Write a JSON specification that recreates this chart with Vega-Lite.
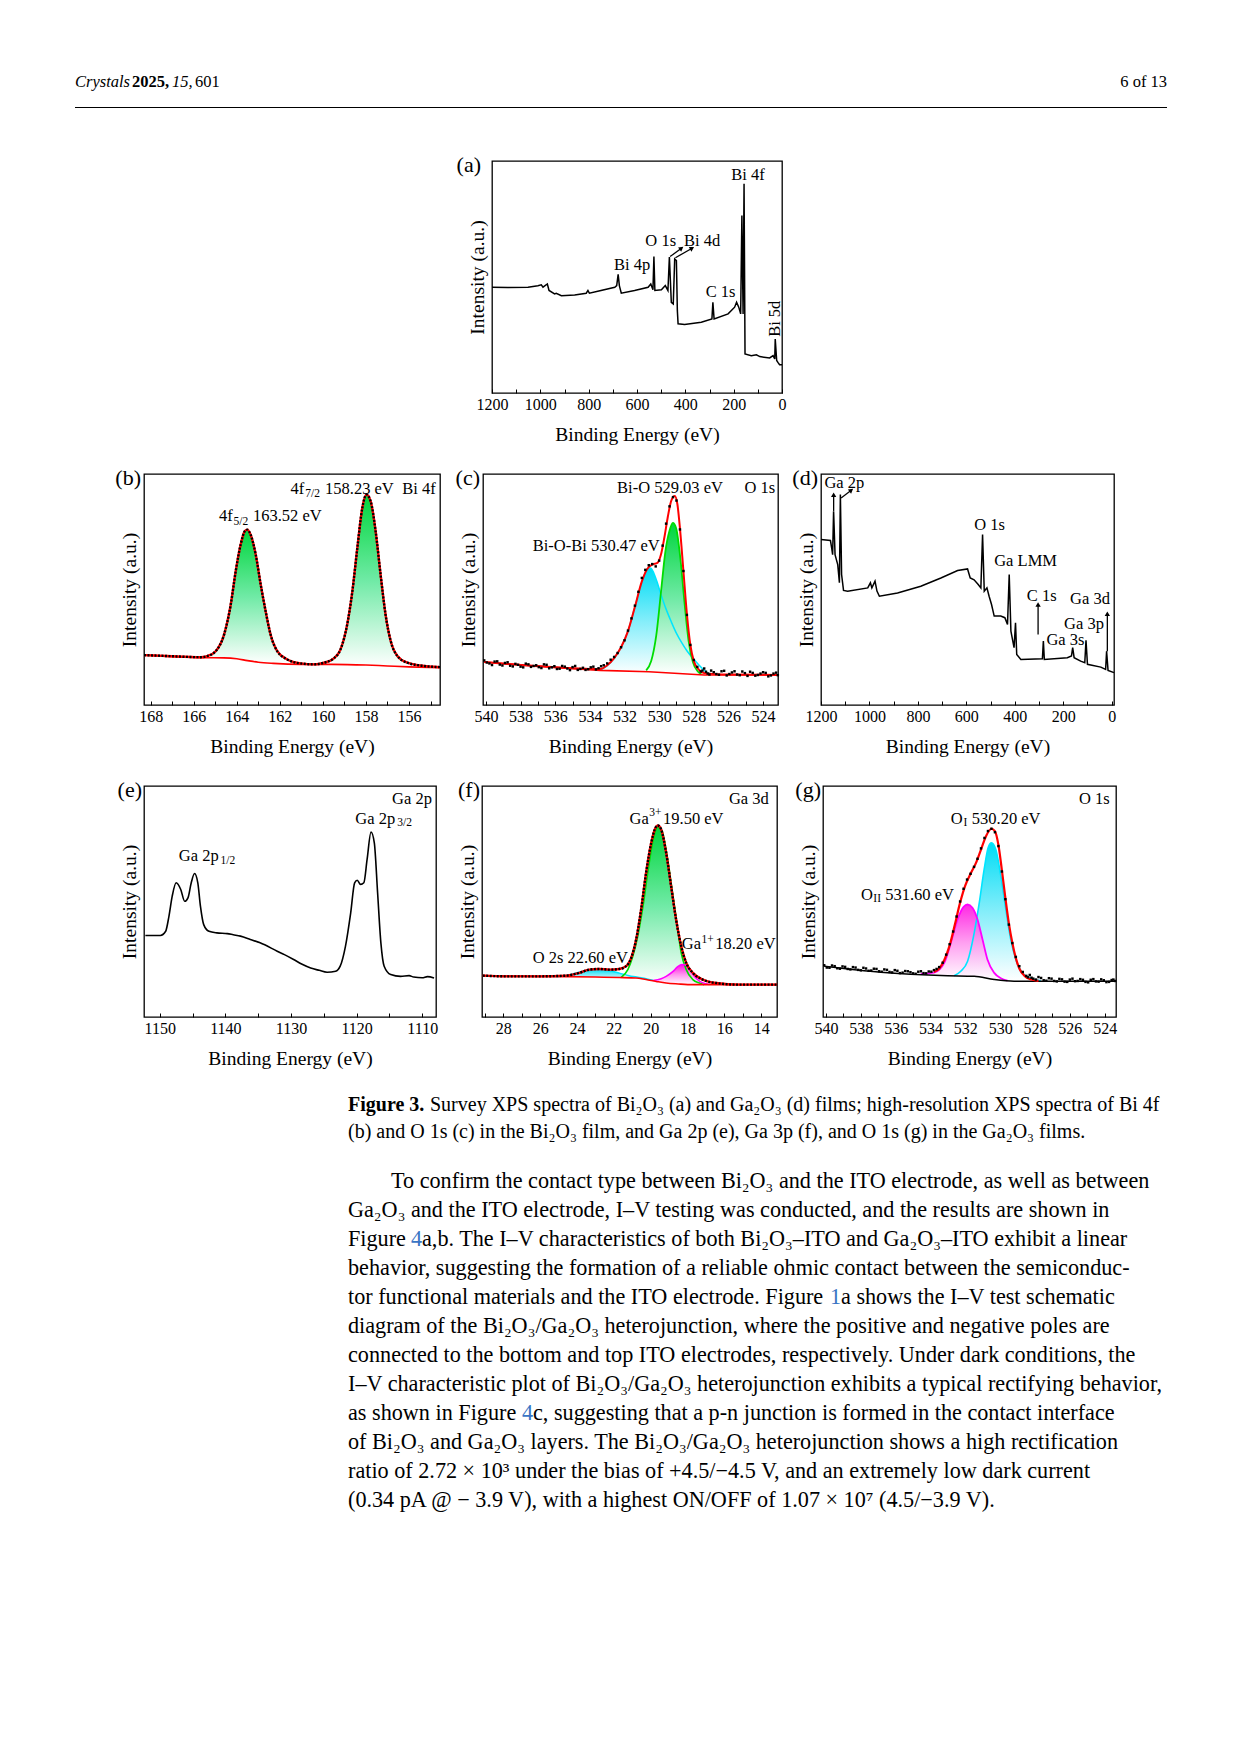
{
"$schema":"https://vega.github.io/schema/vega-lite/v6.json",
"background":"white",
"padding":{"left":74,"top":74,"right":5,"bottom":5},
"config":{
 "font":"Liberation Serif",
 "view":{"stroke":"black","strokeWidth":1.3},
 "axis":{"labelFont":"Liberation Serif","labelFontSize":16,"labelColor":"black","titleFont":"Liberation Serif","titleFontSize":19.5,"titleFontWeight":"normal","titleColor":"black","tickColor":"black","grid":false,"domain":false},
 "axisX":{"tickSize":-4,"labelPadding":7,"titlePadding":13,"minExtent":0,"labelFlush":false,"labelOverlap":false},
 "axisY":{"labels":false,"ticks":false,"minExtent":0,"titlePadding":5},
 "text":{"font":"Liberation Serif","color":"black"}
},
"datasets":{
 "hdr":[{"k":"i","t":"Crystals","x":0,"y":8},{"k":"b","t":"2025,","x":57,"y":8},{"k":"i","t":"15,","x":97,"y":8},{"k":"n","t":"601","x":120,"y":8},{"k":"r","t":"6 of 13","x":1092,"y":8},{"k":"rule","x":0,"x2":1092,"y":33.5}],
 "cap":[{"ln":1,"x":0,"k":"b","t":"Figure 3."},{"ln":1,"x":82,"k":"n","t":"Survey XPS spectra of Bi₂O₃ (a) and Ga₂O₃ (d) films; high-resolution XPS spectra of Bi 4f"},{"ln":2,"x":0,"k":"n","t":"(b) and O 1s (c) in the Bi₂O₃ film, and Ga 2p (e), Ga 3p (f), and O 1s (g) in the Ga₂O₃ films."}],
 "body":[
  {"ln":1,"x":43,"k":"n","t":"To confirm the contact type between Bi₂O₃ and the ITO electrode, as well as between"},
  {"ln":2,"x":0,"k":"n","t":"Ga₂O₃ and the ITO electrode, I–V testing was conducted, and the results are shown in"},
  {"ln":3,"x":0,"k":"n","t":"Figure"},
  {"ln":3,"x":63,"k":"l","t":"4"},
  {"ln":3,"x":74,"k":"n","t":"a,b. The I–V characteristics of both Bi₂O₃–ITO and Ga₂O₃–ITO exhibit a linear"},
  {"ln":4,"x":0,"k":"n","t":"behavior, suggesting the formation of a reliable ohmic contact between the semiconduc-"},
  {"ln":5,"x":0,"k":"n","t":"tor functional materials and the ITO electrode.  Figure"},
  {"ln":5,"x":482,"k":"l","t":"1"},
  {"ln":5,"x":493,"k":"n","t":"a shows the I–V test schematic"},
  {"ln":6,"x":0,"k":"n","t":"diagram of the Bi₂O₃/Ga₂O₃ heterojunction, where the positive and negative poles are"},
  {"ln":7,"x":0,"k":"n","t":"connected to the bottom and top ITO electrodes, respectively. Under dark conditions, the"},
  {"ln":8,"x":0,"k":"n","t":"I–V characteristic plot of Bi₂O₃/Ga₂O₃ heterojunction exhibits a typical rectifying behavior,"},
  {"ln":9,"x":0,"k":"n","t":"as shown in Figure"},
  {"ln":9,"x":174,"k":"l","t":"4"},
  {"ln":9,"x":185,"k":"n","t":"c, suggesting that a p-n junction is formed in the contact interface"},
  {"ln":10,"x":0,"k":"n","t":"of Bi₂O₃ and Ga₂O₃ layers. The Bi₂O₃/Ga₂O₃ heterojunction shows a high rectification"},
  {"ln":11,"x":0,"k":"n","t":"ratio of 2.72 × 10³ under the bias of +4.5/−4.5 V, and an extremely low dark current"},
  {"ln":12,"x":0,"k":"n","t":"(0.34 pA @ − 3.9 V), with a highest ON/OFF of 1.07 × 10⁷ (4.5/−3.9 V)."}
 ],
 "a":[{"x":1200,"y":45.6},{"x":1134,"y":45.5},{"x":1051,"y":45.6},{"x":1010,"y":46.2},{"x":996,"y":46.6},{"x":989,"y":45.6},{"x":971,"y":47.0},{"x":964,"y":44.2},{"x":941,"y":42.7},{"x":934,"y":43.0},{"x":913,"y":41.9},{"x":858,"y":42.2},{"x":810,"y":43.0},{"x":803,"y":44.2},{"x":797,"y":43.0},{"x":749,"y":44.2},{"x":692,"y":45.6},{"x":684,"y":46.3},{"x":678,"y":51.1},{"x":673,"y":46.3},{"x":665,"y":43.0},{"x":610,"y":44.2},{"x":554,"y":45.6},{"x":543,"y":47.0},{"x":534,"y":44.5},{"x":530,"y":58.8},{"x":526,"y":44.2},{"x":499,"y":44.5},{"x":483,"y":46.3},{"x":472,"y":44.2},{"x":466,"y":58.6},{"x":458,"y":39.1},{"x":450,"y":38.4},{"x":444,"y":57.8},{"x":437,"y":57.1},{"x":433,"y":35.5},{"x":430,"y":29.8},{"x":403,"y":29.5},{"x":334,"y":30.5},{"x":290,"y":31.9},{"x":286,"y":39.1},{"x":281,"y":31.9},{"x":223,"y":34.1},{"x":196,"y":37.0},{"x":188,"y":39.1},{"x":179,"y":37.0},{"x":171,"y":34.1},{"x":166,"y":76.5},{"x":161,"y":34.1},{"x":157,"y":90.2},{"x":153,"y":16.8},{"x":127,"y":16.1},{"x":106,"y":16.5},{"x":92,"y":15.7},{"x":51,"y":15.1},{"x":37,"y":16.1},{"x":30,"y":14.7},{"x":28,"y":23.3},{"x":22,"y":14.0},{"x":17,"y":13.2},{"x":10,"y":12.2},{"x":0,"y":12.2}],
 "aa":[{"x":463,"y":58.8,"x2":416,"y2":62.4,"a":53},{"x":441,"y":58.3,"x2":372,"y2":62.4,"a":60}],
 "al":[{"t":"Bi 4f","x":209.7,"y":93.8,"k":"m"},{"t":"O 1s","x":565.5,"y":65.5,"k":"m"},{"t":"Bi 4d","x":405.5,"y":65.5,"k":"m"},{"t":"Bi 4p","x":695.2,"y":55.0,"k":"m"},{"t":"C 1s","x":315.9,"y":43.5,"k":"m"},{"t":"Bi 5d","x":30.3,"y":32,"k":"R"},{"t":"(a)","x":1233,"y":98.28,"k":"P"}],
 "b":[
  {"s":"d","x":168.31,"y":21.6},{"s":"d","x":167.23,"y":21.2},{"s":"d","x":165.68,"y":20.7},{"s":"d","x":165.37,"y":21.2},{"s":"d","x":164.98,"y":23.3},{"s":"d","x":164.59,"y":30.5},{"s":"d","x":164.28,"y":43.5},{"s":"d","x":164.05,"y":57.9},{"s":"d","x":163.82,"y":69.5},{"s":"d","x":163.63,"y":75.2},{"s":"d","x":163.51,"y":75.9},{"s":"d","x":163.36,"y":73.8},{"s":"d","x":163.12,"y":65.1},{"s":"d","x":162.89,"y":52.2},{"s":"d","x":162.66,"y":40.6},{"s":"d","x":162.43,"y":30.5},{"s":"d","x":162.12,"y":23.3},{"s":"d","x":161.65,"y":19.7},{"s":"d","x":161.03,"y":18.0},{"s":"d","x":160.41,"y":17.6},{"s":"d","x":159.95,"y":18.3},{"s":"d","x":159.49,"y":20.2},{"s":"d","x":159.18,"y":24.1},{"s":"d","x":158.87,"y":34.9},{"s":"d","x":158.63,"y":49.3},{"s":"d","x":158.40,"y":68.0},{"s":"d","x":158.17,"y":85.3},{"s":"d","x":157.98,"y":91.1},{"s":"d","x":157.78,"y":88.2},{"s":"d","x":157.55,"y":75.2},{"s":"d","x":157.32,"y":56.5},{"s":"d","x":157.09,"y":39.2},{"s":"d","x":156.85,"y":27.7},{"s":"d","x":156.54,"y":21.2},{"s":"d","x":156.08,"y":18.3},{"s":"d","x":155.46,"y":17.1},{"s":"d","x":154.56,"y":16.4},
  {"s":"bg","x":168.31,"y":21.6},{"s":"bg","x":166.5,"y":20.8},{"s":"bg","x":165.5,"y":20.5},{"s":"bg","x":164.6,"y":20.4},{"s":"bg","x":164.0,"y":20.0},{"s":"bg","x":163.5,"y":19.2},{"s":"bg","x":163.0,"y":18.5},{"s":"bg","x":162.3,"y":18.0},{"s":"bg","x":161.0,"y":17.6},{"s":"bg","x":159.6,"y":17.6},{"s":"bg","x":158.0,"y":17.3},{"s":"bg","x":157.0,"y":16.9},{"s":"bg","x":156.0,"y":16.5},{"s":"bg","x":154.56,"y":16.1},
  {"s":"ag","p":1,"x":165.2,"y":21.2,"b":20.5},{"s":"ag","p":1,"x":164.98,"y":23.3,"b":20.45},{"s":"ag","p":1,"x":164.59,"y":30.5,"b":20.4},{"s":"ag","p":1,"x":164.28,"y":43.5,"b":20.2},{"s":"ag","p":1,"x":164.05,"y":57.9,"b":20.0},{"s":"ag","p":1,"x":163.82,"y":69.5,"b":19.7},{"s":"ag","p":1,"x":163.63,"y":75.2,"b":19.4},{"s":"ag","p":1,"x":163.51,"y":75.9,"b":19.2},{"s":"ag","p":1,"x":163.36,"y":73.8,"b":19.0},{"s":"ag","p":1,"x":163.12,"y":65.1,"b":18.7},{"s":"ag","p":1,"x":162.89,"y":52.2,"b":18.4},{"s":"ag","p":1,"x":162.66,"y":40.6,"b":18.2},{"s":"ag","p":1,"x":162.43,"y":30.5,"b":18.1},{"s":"ag","p":1,"x":162.12,"y":23.3,"b":18.0},{"s":"ag","p":1,"x":161.8,"y":19.5,"b":17.9},{"s":"ag","p":1,"x":161.4,"y":17.9,"b":17.7},
  {"s":"ag","p":2,"x":159.8,"y":18.6,"b":17.6},{"s":"ag","p":2,"x":159.49,"y":20.2,"b":17.6},{"s":"ag","p":2,"x":159.18,"y":24.1,"b":17.55},{"s":"ag","p":2,"x":158.87,"y":34.9,"b":17.5},{"s":"ag","p":2,"x":158.63,"y":49.3,"b":17.45},{"s":"ag","p":2,"x":158.40,"y":68.0,"b":17.4},{"s":"ag","p":2,"x":158.17,"y":85.3,"b":17.3},{"s":"ag","p":2,"x":157.98,"y":91.1,"b":17.3},{"s":"ag","p":2,"x":157.78,"y":88.2,"b":17.2},{"s":"ag","p":2,"x":157.55,"y":75.2,"b":17.1},{"s":"ag","p":2,"x":157.32,"y":56.5,"b":17.0},{"s":"ag","p":2,"x":157.09,"y":39.2,"b":16.95},{"s":"ag","p":2,"x":156.85,"y":27.7,"b":16.85},{"s":"ag","p":2,"x":156.54,"y":21.2,"b":16.7},{"s":"ag","p":2,"x":156.08,"y":18.3,"b":16.5},{"s":"ag","p":2,"x":155.7,"y":16.9,"b":16.4}
 ],
 "bl":[{"t":"4f","x":161.5,"y":93.7,"k":"m"},{"t":"7/2","x":160.82,"y":91.3,"k":"s"},{"t":"158.23 eV","x":159.9,"y":93.7,"k":"m"},{"t":"Bi 4f","x":156.31,"y":93.7,"k":"m"},{"t":"4f","x":164.83,"y":81.7,"k":"m"},{"t":"5/2","x":164.15,"y":79.3,"k":"s"},{"t":"163.52 eV","x":163.25,"y":81.7,"k":"m"},{"t":"(b)","x":168.31,"y":98.27,"k":"P"}],
 "c":[
  {"s":"d","x":540.1,"y":19.3},{"s":"d","x":539.8,"y":18.0},{"s":"d","x":539.5,"y":18.8},{"s":"d","x":539.2,"y":17.5},{"s":"d","x":538.9,"y":18.2},{"s":"d","x":538.6,"y":17.0},{"s":"d","x":538.3,"y":17.8},{"s":"d","x":538.0,"y":16.6},{"s":"d","x":537.7,"y":17.9},{"s":"d","x":537.4,"y":16.5},{"s":"d","x":537.1,"y":17.2},{"s":"d","x":536.8,"y":16.0},{"s":"d","x":536.5,"y":17.4},{"s":"d","x":536.2,"y":16.3},{"s":"d","x":535.9,"y":15.6},{"s":"d","x":535.6,"y":16.9},{"s":"d","x":535.3,"y":15.8},{"s":"d","x":535.0,"y":16.4},{"s":"d","x":534.7,"y":15.2},{"s":"d","x":534.4,"y":16.1},{"s":"d","x":534.1,"y":15.5},{"s":"d","x":533.8,"y":16.6},{"s":"d","x":533.5,"y":15.9},{"s":"d","x":533.2,"y":17.2},{"s":"d","x":533.0,"y":18.0},{"s":"d","x":532.8,"y":19.6},{"s":"d","x":532.6,"y":20.8},{"s":"d","x":532.4,"y":22.5},{"s":"d","x":532.2,"y":25.0},{"s":"d","x":532.0,"y":28.0},{"s":"d","x":531.8,"y":32.2},{"s":"d","x":531.6,"y":37.5},{"s":"d","x":531.4,"y":43.0},{"s":"d","x":531.2,"y":49.0},{"s":"d","x":531.0,"y":55.0},{"s":"d","x":530.8,"y":58.5},{"s":"d","x":530.6,"y":60.5},{"s":"d","x":530.4,"y":61.0},{"s":"d","x":530.2,"y":60.0},{"s":"d","x":530.0,"y":62.5},{"s":"d","x":529.8,"y":69.0},{"s":"d","x":529.6,"y":78.5},{"s":"d","x":529.4,"y":86.0},{"s":"d","x":529.2,"y":90.0},{"s":"d","x":529.0,"y":88.5},{"s":"d","x":528.8,"y":76.0},{"s":"d","x":528.6,"y":58.0},{"s":"d","x":528.4,"y":39.0},{"s":"d","x":528.2,"y":26.0},{"s":"d","x":528.0,"y":19.5},{"s":"d","x":527.8,"y":16.5},{"s":"d","x":527.6,"y":14.5},{"s":"d","x":527.4,"y":15.8},{"s":"d","x":527.2,"y":13.6},{"s":"d","x":527.0,"y":14.9},{"s":"d","x":526.7,"y":13.4},{"s":"d","x":526.4,"y":14.6},{"s":"d","x":526.1,"y":12.8},{"s":"d","x":525.8,"y":14.1},{"s":"d","x":525.5,"y":13.2},{"s":"d","x":525.2,"y":14.5},{"s":"d","x":524.9,"y":12.6},{"s":"d","x":524.6,"y":13.9},{"s":"d","x":524.3,"y":13.0},{"s":"d","x":524.0,"y":14.2},{"s":"d","x":523.7,"y":12.4},{"s":"d","x":523.4,"y":13.6},{"s":"d","x":523.15,"y":12.9},
  {"s":"d","x":539.95,"y":18.4},{"s":"d","x":539.65,"y":17.3},{"s":"d","x":539.35,"y":18.9},{"s":"d","x":539.05,"y":17.1},{"s":"d","x":538.75,"y":18.5},{"s":"d","x":538.45,"y":16.7},{"s":"d","x":538.15,"y":17.4},{"s":"d","x":537.85,"y":16.3},{"s":"d","x":537.55,"y":17.6},{"s":"d","x":537.25,"y":16.9},{"s":"d","x":536.95,"y":16.4},{"s":"d","x":536.65,"y":17.6},{"s":"d","x":536.35,"y":15.9},{"s":"d","x":536.05,"y":16.8},{"s":"d","x":535.75,"y":15.7},{"s":"d","x":535.45,"y":16.6},{"s":"d","x":535.15,"y":15.1},{"s":"d","x":534.85,"y":16.9},{"s":"d","x":534.55,"y":15.6},{"s":"d","x":534.25,"y":15.2},{"s":"d","x":533.95,"y":16.3},{"s":"d","x":533.65,"y":15.4},{"s":"d","x":533.35,"y":16.8},{"s":"d","x":527.5,"y":14.9},{"s":"d","x":527.3,"y":14.4},{"s":"d","x":527.1,"y":13.2},{"s":"d","x":526.85,"y":14.2},{"s":"d","x":526.55,"y":13.1},{"s":"d","x":526.25,"y":14.8},{"s":"d","x":525.95,"y":13.4},{"s":"d","x":525.65,"y":14.6},{"s":"d","x":525.35,"y":12.9},{"s":"d","x":525.05,"y":13.8},{"s":"d","x":524.75,"y":14.4},{"s":"d","x":524.45,"y":12.7},{"s":"d","x":524.15,"y":13.6},{"s":"d","x":523.85,"y":13.9},{"s":"d","x":523.55,"y":12.8},{"s":"d","x":523.25,"y":14.0},
  {"s":"f","x":540.1,"y":18.6},{"s":"f","x":538,"y":17.3},{"s":"f","x":536,"y":16.3},{"s":"f","x":534,"y":15.6},{"s":"f","x":533.4,"y":15.6},{"s":"f","x":533.0,"y":17.2},{"s":"f","x":532.6,"y":20.3},{"s":"f","x":532.2,"y":25.0},{"s":"f","x":531.8,"y":32.0},{"s":"f","x":531.4,"y":42.5},{"s":"f","x":531.0,"y":53.5},{"s":"f","x":530.7,"y":58.8},{"s":"f","x":530.4,"y":60.8},{"s":"f","x":530.1,"y":61.5},{"s":"f","x":529.9,"y":65.0},{"s":"f","x":529.7,"y":72.5},{"s":"f","x":529.5,"y":81.5},{"s":"f","x":529.3,"y":88.5},{"s":"f","x":529.1,"y":90.5},{"s":"f","x":528.95,"y":87.0},{"s":"f","x":528.8,"y":76.5},{"s":"f","x":528.6,"y":58.0},{"s":"f","x":528.4,"y":39.5},{"s":"f","x":528.2,"y":26.0},{"s":"f","x":528.0,"y":19.0},{"s":"f","x":527.7,"y":15.2},{"s":"f","x":527.4,"y":13.8},{"s":"f","x":526,"y":13.2},{"s":"f","x":523.15,"y":13.0},
  {"s":"bg","x":540.1,"y":18.6},{"s":"bg","x":538,"y":17.4},{"s":"bg","x":536,"y":16.3},{"s":"bg","x":533.4,"y":15.0},{"s":"bg","x":530.6,"y":14.4},{"s":"bg","x":527.4,"y":13.0},{"s":"bg","x":523.15,"y":13.0},
  {"s":"ac","p":1,"x":533.4,"y":15.0,"b":15.0},{"s":"ac","p":1,"x":533.0,"y":17.0,"b":14.9},{"s":"ac","p":1,"x":532.6,"y":20.2,"b":14.85},{"s":"ac","p":1,"x":532.2,"y":25.0,"b":14.8},{"s":"ac","p":1,"x":531.8,"y":32.0,"b":14.7},{"s":"ac","p":1,"x":531.4,"y":42.5,"b":14.65},{"s":"ac","p":1,"x":531.0,"y":53.0,"b":14.6},{"s":"ac","p":1,"x":530.75,"y":57.8,"b":14.5},{"s":"ac","p":1,"x":530.5,"y":59.3,"b":14.4},{"s":"ac","p":1,"x":530.2,"y":55.0,"b":14.3},{"s":"ac","p":1,"x":529.9,"y":48.0,"b":14.2},{"s":"ac","p":1,"x":529.6,"y":41.5,"b":14.1},{"s":"ac","p":1,"x":529.3,"y":36.0,"b":13.9},{"s":"ac","p":1,"x":529.0,"y":31.0,"b":13.8},{"s":"ac","p":1,"x":528.7,"y":27.0,"b":13.6},{"s":"ac","p":1,"x":528.4,"y":23.5,"b":13.5},{"s":"ac","p":1,"x":528.0,"y":19.8,"b":13.3},{"s":"ac","p":1,"x":527.6,"y":16.5,"b":13.1},{"s":"ac","p":1,"x":527.3,"y":14.5,"b":13.0},{"s":"ac","p":1,"x":527.0,"y":13.4,"b":13.0},
  {"s":"ag","p":1,"x":530.75,"y":15.0,"b":14.5},{"s":"ag","p":1,"x":530.46,"y":19.0,"b":14.4},{"s":"ag","p":1,"x":530.17,"y":30.0,"b":14.3},{"s":"ag","p":1,"x":529.88,"y":50.0,"b":14.2},{"s":"ag","p":1,"x":529.65,"y":66.0,"b":14.1},{"s":"ag","p":1,"x":529.40,"y":75.5,"b":14.0},{"s":"ag","p":1,"x":529.21,"y":78.8,"b":13.95},{"s":"ag","p":1,"x":529.02,"y":76.5,"b":13.85},{"s":"ag","p":1,"x":528.77,"y":63.0,"b":13.7},{"s":"ag","p":1,"x":528.54,"y":44.5,"b":13.6},{"s":"ag","p":1,"x":528.30,"y":27.7,"b":13.5},{"s":"ag","p":1,"x":528.05,"y":18.5,"b":13.4},{"s":"ag","p":1,"x":527.77,"y":14.5,"b":13.2},{"s":"ag","p":1,"x":527.57,"y":13.4,"b":13.1}
 ],
 "cl":[{"t":"Bi-O 529.03 eV","x":532.43,"y":94.0,"k":"m"},{"t":"O 1s","x":525.07,"y":94.0,"k":"m"},{"t":"Bi-O-Bi 530.47 eV","x":537.30,"y":68.7,"k":"m"},{"t":"(c)","x":540.17,"y":98.27,"k":"P"}],
 "d":[{"x":1200,"y":71.6},{"x":1161,"y":71.2},{"x":1156,"y":68.0},{"x":1152,"y":65.1},{"x":1148,"y":83.9},{"x":1142,"y":65.1},{"x":1131,"y":60.8},{"x":1124,"y":52.9},{"x":1120,"y":91.1},{"x":1115,"y":56.5},{"x":1107,"y":49.6},{"x":1090,"y":49.3},{"x":1007,"y":50.7},{"x":996,"y":52.9},{"x":990,"y":50.7},{"x":977,"y":53.6},{"x":969,"y":49.3},{"x":959,"y":47.1},{"x":884,"y":48.5},{"x":788,"y":51.4},{"x":705,"y":55.0},{"x":636,"y":58.2},{"x":595,"y":58.9},{"x":584,"y":55.0},{"x":568,"y":54.2},{"x":551,"y":52.2},{"x":540,"y":50.7},{"x":533,"y":73.8},{"x":526,"y":49.3},{"x":515,"y":50.7},{"x":506,"y":47.1},{"x":496,"y":43.5},{"x":485,"y":38.5},{"x":458,"y":38.5},{"x":441,"y":37.8},{"x":430,"y":34.9},{"x":423,"y":56.5},{"x":416,"y":32.0},{"x":403,"y":24.8},{"x":397,"y":35.6},{"x":392,"y":21.9},{"x":375,"y":19.7},{"x":286,"y":20.0},{"x":282,"y":27.7},{"x":278,"y":19.7},{"x":183,"y":20.5},{"x":166,"y":21.2},{"x":161,"y":24.8},{"x":155,"y":20.5},{"x":128,"y":19.0},{"x":111,"y":18.3},{"x":106,"y":28.0},{"x":100,"y":17.6},{"x":45,"y":16.4},{"x":25,"y":15.4},{"x":21,"y":23.3},{"x":15,"y":15.0},{"x":-9.6,"y":14.0}],
 "da":[{"x":1147.8,"y":84,"x2":1147.8,"y2":91,"a":0},{"x":1117,"y":89.6,"x2":1075,"y2":93,"a":52},{"x":303.8,"y":30.5,"x2":303.8,"y2":43.5,"a":0},{"x":17.9,"y":23.3,"x2":17.9,"y2":39.5,"a":0}],
 "dl":[{"t":"Ga 2p","x":1186,"y":96.0,"k":"m"},{"t":"O 1s","x":567.7,"y":78.1,"k":"m"},{"t":"Ga LMM","x":485,"y":62.5,"k":"m"},{"t":"C 1s","x":350.5,"y":47.1,"k":"m"},{"t":"Ga 3d","x":171.8,"y":45.7,"k":"m"},{"t":"Ga 3p","x":196.6,"y":35.2,"k":"m"},{"t":"Ga 3s","x":269.4,"y":28.1,"k":"m"},{"t":"(d)","x":1200,"y":98.27,"k":"P"}],
 "e":[{"x":1152.19,"y":35.3},{"x":1149.9,"y":35.3},{"x":1149.1,"y":37.1},{"x":1148.6,"y":43.6},{"x":1148.1,"y":52.3},{"x":1147.5,"y":58.1},{"x":1146.8,"y":55.2},{"x":1146.2,"y":50.1},{"x":1145.7,"y":51.6},{"x":1145.2,"y":58.1},{"x":1144.7,"y":62.1},{"x":1144.2,"y":58.1},{"x":1143.8,"y":48.0},{"x":1143.3,"y":40.0},{"x":1142.5,"y":37.1},{"x":1141.3,"y":36.4},{"x":1139.7,"y":36.1},{"x":1138.8,"y":35.6},{"x":1137.7,"y":35.0},{"x":1136.2,"y":33.6},{"x":1134.7,"y":32.1},{"x":1132.1,"y":28.5},{"x":1131,"y":27.0},{"x":1129.6,"y":24.9},{"x":1128.3,"y":22.8},{"x":1127.0,"y":21.2},{"x":1125.7,"y":20.2},{"x":1124.5,"y":19.4},{"x":1123.2,"y":19.8},{"x":1122.5,"y":22.0},{"x":1121.7,"y":30.6},{"x":1120.9,"y":45.1},{"x":1120.3,"y":58.1},{"x":1119.9,"y":59.2},{"x":1119.4,"y":57.4},{"x":1118.9,"y":58.1},{"x":1118.4,"y":68.2},{"x":1117.8,"y":80.1},{"x":1117.3,"y":75.4},{"x":1116.8,"y":53.8},{"x":1116.3,"y":32.1},{"x":1115.8,"y":22.0},{"x":1114.8,"y":18.4},{"x":1113.3,"y":17.6},{"x":1112,"y":17.9},{"x":1111.3,"y":17.3},{"x":1110,"y":17.0},{"x":1109.2,"y":17.5},{"x":1108.2,"y":16.9}],
 "el":[{"t":"Ga 2p","x":1114.6,"y":94.5,"k":"m"},{"t":"Ga 2p","x":1120.2,"y":85.8,"k":"m"},{"t":"3/2","x":1113.8,"y":83.8,"k":"s"},{"t":"Ga 2p","x":1147.1,"y":69.7,"k":"m"},{"t":"1/2","x":1140.75,"y":67.7,"k":"s"},{"t":"(e)","x":1152.4,"y":98.27,"k":"P"}],
 "f":[
  {"s":"d","x":29.12,"y":17.9},{"s":"d","x":27.86,"y":17.6},{"s":"d","x":26.04,"y":17.6},{"s":"d","x":24.59,"y":17.9},{"s":"d","x":23.87,"y":19.1},{"s":"d","x":23.33,"y":20.5},{"s":"d","x":22.78,"y":20.8},{"s":"d","x":22.24,"y":20.5},{"s":"d","x":21.70,"y":20.8},{"s":"d","x":21.33,"y":22.0},{"s":"d","x":21.06,"y":25.6},{"s":"d","x":20.79,"y":33.5},{"s":"d","x":20.52,"y":46.5},{"s":"d","x":20.25,"y":62.4},{"s":"d","x":19.97,"y":75.4},{"s":"d","x":19.74,"y":81.9},{"s":"d","x":19.61,"y":82.9},{"s":"d","x":19.43,"y":81.2},{"s":"d","x":19.16,"y":71.1},{"s":"d","x":18.89,"y":56.6},{"s":"d","x":18.62,"y":42.2},{"s":"d","x":18.34,"y":30.6},{"s":"d","x":18.07,"y":23.4},{"s":"d","x":17.71,"y":19.1},{"s":"d","x":17.17,"y":16.2},{"s":"d","x":16.44,"y":14.7},{"s":"d","x":15.17,"y":14.0},{"s":"d","x":13.14,"y":14.0},
  {"s":"bg","x":29.12,"y":17.9},{"s":"bg","x":26.0,"y":17.6},{"s":"bg","x":23.0,"y":17.3},{"s":"bg","x":21.7,"y":17.1},{"s":"bg","x":20.8,"y":16.9},{"s":"bg","x":20.25,"y":16.2},{"s":"bg","x":19.7,"y":15.4},{"s":"bg","x":19.16,"y":14.7},{"s":"bg","x":18.5,"y":14.3},{"s":"bg","x":17.71,"y":14.0},{"s":"bg","x":13.14,"y":14.0},
  {"s":"ag","p":1,"x":21.6,"y":17.1,"b":17.1},{"s":"ag","p":1,"x":21.24,"y":20.5,"b":17.0},{"s":"ag","p":1,"x":20.97,"y":26.3,"b":16.95},{"s":"ag","p":1,"x":20.70,"y":35.0,"b":16.9},{"s":"ag","p":1,"x":20.43,"y":47.3,"b":16.6},{"s":"ag","p":1,"x":20.16,"y":62.4,"b":16.1},{"s":"ag","p":1,"x":19.88,"y":76.2,"b":15.7},{"s":"ag","p":1,"x":19.61,"y":82.4,"b":15.35},{"s":"ag","p":1,"x":19.38,"y":80.5,"b":15.1},{"s":"ag","p":1,"x":19.12,"y":70.4,"b":14.7},{"s":"ag","p":1,"x":18.85,"y":55.9,"b":14.55},{"s":"ag","p":1,"x":18.58,"y":40.8,"b":14.4},{"s":"ag","p":1,"x":18.34,"y":27.7,"b":14.3},{"s":"ag","p":1,"x":18.07,"y":20.5,"b":14.2},{"s":"ag","p":1,"x":17.71,"y":16.2,"b":14.0},{"s":"ag","p":1,"x":17.35,"y":14.7,"b":14.0},{"s":"ag","p":1,"x":17.1,"y":14.0,"b":14.0},
  {"s":"am","p":1,"x":19.88,"y":15.8,"b":15.7},{"s":"am","p":1,"x":19.43,"y":16.6,"b":15.1},{"s":"am","p":1,"x":19.16,"y":17.6,"b":14.7},{"s":"am","p":1,"x":18.80,"y":19.6,"b":14.5},{"s":"am","p":1,"x":18.53,"y":21.8,"b":14.4},{"s":"am","p":1,"x":18.29,"y":22.7,"b":14.3},{"s":"am","p":1,"x":18.07,"y":22.4,"b":14.2},{"s":"am","p":1,"x":17.85,"y":20.5,"b":14.1},{"s":"am","p":1,"x":17.62,"y":17.6,"b":14.0},{"s":"am","p":1,"x":17.35,"y":15.5,"b":14.0},{"s":"am","p":1,"x":17.0,"y":14.4,"b":14.0},{"s":"am","p":1,"x":16.8,"y":14.05,"b":14.0},
  {"s":"ac","p":1,"x":25.2,"y":17.5,"b":17.5},{"s":"ac","p":1,"x":24.59,"y":18.0,"b":17.45},{"s":"ac","p":1,"x":24.23,"y":18.6,"b":17.4},{"s":"ac","p":1,"x":23.87,"y":19.4,"b":17.35},{"s":"ac","p":1,"x":23.33,"y":20.3,"b":17.3},{"s":"ac","p":1,"x":22.78,"y":20.6,"b":17.2},{"s":"ac","p":1,"x":22.24,"y":20.0,"b":17.15},{"s":"ac","p":1,"x":21.7,"y":19.0,"b":17.1},{"s":"ac","p":1,"x":21.24,"y":18.0,"b":17.0},{"s":"ac","p":1,"x":20.7,"y":17.2,"b":16.85},{"s":"ac","p":1,"x":20.25,"y":16.6,"b":16.2},{"s":"ac","p":1,"x":19.88,"y":15.9,"b":15.7}
 ],
 "fl":[{"t":"Ga 3d","x":15.75,"y":94.2,"k":"m"},{"t":"Ga","x":21.15,"y":85.8,"k":"m"},{"t":"3+","x":20.08,"y":88.2,"k":"s"},{"t":"19.50 eV","x":19.33,"y":85.8,"k":"m"},{"t":"Ga","x":18.31,"y":31.4,"k":"m"},{"t":"1+","x":17.24,"y":33.5,"k":"s"},{"t":"18.20 eV","x":16.5,"y":31.4,"k":"m"},{"t":"O 2s 22.60 eV","x":26.41,"y":25.6,"k":"m"},{"t":"(f)","x":29.16,"y":98.27,"k":"P"}],
 "g":[
  {"s":"d","x":540.1,"y":22.4},{"s":"d","x":539.8,"y":21.3},{"s":"d","x":539.5,"y":22.0},{"s":"d","x":539.2,"y":20.9},{"s":"d","x":538.9,"y":21.7},{"s":"d","x":538.6,"y":20.6},{"s":"d","x":538.3,"y":21.4},{"s":"d","x":538.0,"y":20.2},{"s":"d","x":537.7,"y":21.0},{"s":"d","x":537.4,"y":20.1},{"s":"d","x":537.1,"y":20.8},{"s":"d","x":536.8,"y":19.6},{"s":"d","x":536.5,"y":20.4},{"s":"d","x":536.2,"y":19.3},{"s":"d","x":535.9,"y":20.0},{"s":"d","x":535.6,"y":19.2},{"s":"d","x":535.3,"y":19.8},{"s":"d","x":535.0,"y":18.9},{"s":"d","x":534.7,"y":19.6},{"s":"d","x":534.4,"y":19.0},{"s":"d","x":534.1,"y":19.7},{"s":"d","x":533.8,"y":20.3},{"s":"d","x":533.5,"y":21.6},{"s":"d","x":533.3,"y":23.5},{"s":"d","x":533.1,"y":27.0},{"s":"d","x":532.9,"y":31.5},{"s":"d","x":532.7,"y":37.0},{"s":"d","x":532.5,"y":43.5},{"s":"d","x":532.3,"y":50.0},{"s":"d","x":532.1,"y":55.5},{"s":"d","x":531.9,"y":59.5},{"s":"d","x":531.7,"y":62.0},{"s":"d","x":531.5,"y":65.0},{"s":"d","x":531.3,"y":68.5},{"s":"d","x":531.1,"y":73.0},{"s":"d","x":530.9,"y":77.5},{"s":"d","x":530.7,"y":80.5},{"s":"d","x":530.5,"y":81.5},{"s":"d","x":530.3,"y":80.0},{"s":"d","x":530.1,"y":74.0},{"s":"d","x":529.9,"y":63.0},{"s":"d","x":529.7,"y":51.0},{"s":"d","x":529.5,"y":40.0},{"s":"d","x":529.3,"y":32.0},{"s":"d","x":529.1,"y":26.0},{"s":"d","x":528.9,"y":22.0},{"s":"d","x":528.7,"y":19.5},{"s":"d","x":528.5,"y":17.8},{"s":"d","x":528.3,"y":18.2},{"s":"d","x":528.1,"y":16.6},{"s":"d","x":527.8,"y":17.3},{"s":"d","x":527.5,"y":15.9},{"s":"d","x":527.2,"y":16.8},{"s":"d","x":526.9,"y":15.6},{"s":"d","x":526.6,"y":16.5},{"s":"d","x":526.3,"y":15.3},{"s":"d","x":526.0,"y":16.2},{"s":"d","x":525.7,"y":15.5},{"s":"d","x":525.4,"y":16.4},{"s":"d","x":525.1,"y":15.2},{"s":"d","x":524.8,"y":16.1},{"s":"d","x":524.5,"y":15.4},{"s":"d","x":524.2,"y":16.3},{"s":"d","x":523.9,"y":15.1},{"s":"d","x":523.6,"y":16.0},{"s":"d","x":523.4,"y":15.6},
  {"s":"d","x":539.95,"y":21.4},{"s":"d","x":539.65,"y":22.3},{"s":"d","x":539.35,"y":21.1},{"s":"d","x":539.05,"y":21.9},{"s":"d","x":538.75,"y":20.8},{"s":"d","x":538.45,"y":21.6},{"s":"d","x":538.15,"y":20.4},{"s":"d","x":537.85,"y":21.3},{"s":"d","x":537.55,"y":20.0},{"s":"d","x":537.25,"y":20.9},{"s":"d","x":536.95,"y":19.8},{"s":"d","x":536.65,"y":20.6},{"s":"d","x":536.35,"y":19.5},{"s":"d","x":536.05,"y":20.3},{"s":"d","x":535.75,"y":19.0},{"s":"d","x":535.45,"y":19.9},{"s":"d","x":535.15,"y":19.4},{"s":"d","x":534.85,"y":18.7},{"s":"d","x":534.55,"y":19.8},{"s":"d","x":534.25,"y":18.9},{"s":"d","x":533.95,"y":19.6},{"s":"d","x":533.65,"y":20.8},{"s":"d","x":528.4,"y":17.2},{"s":"d","x":528.2,"y":17.0},{"s":"d","x":527.95,"y":16.2},{"s":"d","x":527.65,"y":16.9},{"s":"d","x":527.35,"y":15.7},{"s":"d","x":527.05,"y":16.6},{"s":"d","x":526.75,"y":15.4},{"s":"d","x":526.45,"y":16.3},{"s":"d","x":526.15,"y":15.2},{"s":"d","x":525.85,"y":16.6},{"s":"d","x":525.55,"y":15.6},{"s":"d","x":525.25,"y":16.1},{"s":"d","x":524.95,"y":15.0},{"s":"d","x":524.65,"y":16.4},{"s":"d","x":524.35,"y":15.3},{"s":"d","x":524.05,"y":15.9},{"s":"d","x":523.75,"y":15.2},{"s":"d","x":523.5,"y":16.2},
  {"s":"f","x":533.8,"y":19.5},{"s":"f","x":533.5,"y":21.0},{"s":"f","x":533.2,"y":24.8},{"s":"f","x":532.9,"y":31.0},{"s":"f","x":532.6,"y":40.0},{"s":"f","x":532.3,"y":49.5},{"s":"f","x":532.0,"y":57.0},{"s":"f","x":531.7,"y":62.0},{"s":"f","x":531.4,"y":66.5},{"s":"f","x":531.1,"y":72.5},{"s":"f","x":530.8,"y":78.5},{"s":"f","x":530.5,"y":81.5},{"s":"f","x":530.3,"y":80.5},{"s":"f","x":530.1,"y":74.5},{"s":"f","x":529.9,"y":63.5},{"s":"f","x":529.7,"y":51.5},{"s":"f","x":529.5,"y":40.5},{"s":"f","x":529.3,"y":32.0},{"s":"f","x":529.1,"y":25.5},{"s":"f","x":528.9,"y":21.0},{"s":"f","x":528.6,"y":17.8},{"s":"f","x":528.2,"y":16.2},{"s":"f","x":527.8,"y":15.6},
  {"s":"bg","x":540.1,"y":22.0},{"s":"bg","x":536.85,"y":19.4},{"s":"bg","x":533.02,"y":17.9},{"s":"bg","x":531.49,"y":17.6},{"s":"bg","x":530.34,"y":16.2},{"s":"bg","x":529.2,"y":15.5},{"s":"bg","x":523.4,"y":15.5},
  {"s":"am","p":1,"x":534.55,"y":18.7,"b":18.7},{"s":"am","p":1,"x":533.79,"y":19.2,"b":18.3},{"s":"am","p":1,"x":533.21,"y":23.4,"b":18.0},{"s":"am","p":1,"x":532.83,"y":32.1,"b":17.85},{"s":"am","p":1,"x":532.45,"y":42.2,"b":17.8},{"s":"am","p":1,"x":532.10,"y":47.7,"b":17.7},{"s":"am","p":1,"x":531.87,"y":48.7,"b":17.65},{"s":"am","p":1,"x":531.59,"y":47.3,"b":17.6},{"s":"am","p":1,"x":531.30,"y":42.2,"b":17.4},{"s":"am","p":1,"x":531.01,"y":33.5,"b":17.0},{"s":"am","p":1,"x":530.73,"y":24.9,"b":16.7},{"s":"am","p":1,"x":530.34,"y":19.1,"b":16.2},{"s":"am","p":1,"x":529.96,"y":16.8,"b":15.9},{"s":"am","p":1,"x":529.58,"y":15.8,"b":15.6},
  {"s":"ac","p":1,"x":532.64,"y":17.9,"b":17.8},{"s":"ac","p":1,"x":532.26,"y":19.8,"b":17.7},{"s":"ac","p":1,"x":531.87,"y":24.1,"b":17.65},{"s":"ac","p":1,"x":531.49,"y":36.4,"b":17.6},{"s":"ac","p":1,"x":531.20,"y":49.4,"b":17.2},{"s":"ac","p":1,"x":530.92,"y":63.9,"b":16.9},{"s":"ac","p":1,"x":530.69,"y":73.3,"b":16.6},{"s":"ac","p":1,"x":530.50,"y":75.4,"b":16.4},{"s":"ac","p":1,"x":530.25,"y":72.5,"b":16.1},{"s":"ac","p":1,"x":529.96,"y":61.0,"b":15.9},{"s":"ac","p":1,"x":529.67,"y":46.5,"b":15.7},{"s":"ac","p":1,"x":529.39,"y":33.5,"b":15.6},{"s":"ac","p":1,"x":529.10,"y":24.9,"b":15.5},{"s":"ac","p":1,"x":528.72,"y":19.1,"b":15.5},{"s":"ac","p":1,"x":528.24,"y":16.8,"b":15.5},{"s":"ac","p":1,"x":527.67,"y":15.7,"b":15.5}
 ],
 "gl":[{"t":"O 1s","x":525.47,"y":94.2,"k":"m"},{"t":"O","x":532.83,"y":85.8,"k":"m"},{"t":"I","x":532.1,"y":83.8,"k":"s"},{"t":"530.20 eV","x":531.63,"y":85.8,"k":"m"},{"t":"O","x":537.99,"y":53.0,"k":"m"},{"t":"II","x":537.28,"y":51.0,"k":"s"},{"t":"531.60 eV","x":536.6,"y":53.0,"k":"m"},{"t":"(g)","x":540.17,"y":98.27,"k":"P"}]
},
"spacing":44,
"resolve":{"scale":{"x":"independent","y":"independent"}},
"vconcat":[
 {"width":1092,"height":34,"view":{"stroke":null},"data":{"name":"hdr"},
  "encoding":{"x":{"field":"x","type":"quantitative","scale":{"domain":[0,1092],"nice":false,"zero":false},"axis":null},"y":{"field":"y","type":"quantitative","scale":{"domain":[0,34],"reverse":true,"nice":false,"zero":false},"axis":null}},
  "layer":[
   {"transform":[{"filter":"datum.k=='i'"}],"mark":{"type":"text","align":"left","baseline":"middle","fontSize":16.5,"fontStyle":"italic"},"encoding":{"text":{"field":"t","type":"nominal"}}},
   {"transform":[{"filter":"datum.k=='b'"}],"mark":{"type":"text","align":"left","baseline":"middle","fontSize":16.5,"fontWeight":"bold"},"encoding":{"text":{"field":"t","type":"nominal"}}},
   {"transform":[{"filter":"datum.k=='n'"}],"mark":{"type":"text","align":"left","baseline":"middle","fontSize":16.5},"encoding":{"text":{"field":"t","type":"nominal"}}},
   {"transform":[{"filter":"datum.k=='r'"}],"mark":{"type":"text","align":"right","baseline":"middle","fontSize":16.5},"encoding":{"text":{"field":"t","type":"nominal"}}},
   {"transform":[{"filter":"datum.k=='rule'"}],"mark":{"type":"rule","color":"black","strokeWidth":1.2},"encoding":{"x2":{"field":"x2"}}}
  ]},
 {"spacing":21,"resolve":{"scale":{"x":"independent","y":"independent"}},
  "vconcat":[
     {"bounds":"flush","spacing":43,"resolve":{"scale":{"x":"independent","y":"independent"}},
      "hconcat":[
       {"width":374,"height":232,"view":{"stroke":null},"data":{"values":[{"t":""}]},"mark":{"type":"text"},"encoding":{"text":{"field":"t","type":"nominal"}}},
       {"width":290,"height":232,
        "encoding":{"x":{"field":"x","type":"quantitative","scale":{"domain":[0,1200],"reverse":true,"nice":false,"zero":false},"axis":{"title":"Binding Energy (eV)","format":"d","values":[1200,1100,1000,900,800,700,600,500,400,300,200,100,0],"labelExpr":"datum.value % 200 === 0 ? datum.label : ''"}},
                    "y":{"field":"y","type":"quantitative","scale":{"domain":[0,100],"nice":false,"zero":false},"axis":{"title":"Intensity (a.u.)"}}},
        "layer":[
         {"data":{"name":"a"},"mark":{"type":"line","color":"black","strokeWidth":1.5}},
         {"data":{"name":"aa"},"mark":{"type":"rule","color":"black","strokeWidth":1.3},"encoding":{"x2":{"field":"x2"},"y2":{"field":"y2"}}},
         {"data":{"name":"aa"},"mark":{"type":"point","shape":"triangle-up","filled":true,"color":"black","size":28,"opacity":1},"encoding":{"x":{"field":"x2","type":"quantitative"},"y":{"field":"y2","type":"quantitative"},"angle":{"field":"a","type":"quantitative","scale":null}}},
         {"data":{"name":"al"},"transform":[{"filter":"datum.k=='m'"}],"mark":{"type":"text","align":"left","baseline":"middle","fontSize":16.5},"encoding":{"text":{"field":"t","type":"nominal"}}},
         {"data":{"name":"al"},"transform":[{"filter":"datum.k=='R'"}],"mark":{"type":"text","angle":270,"align":"center","baseline":"middle","fontSize":16.5},"encoding":{"text":{"field":"t","type":"nominal"}}},
         {"data":{"name":"al"},"transform":[{"filter":"datum.k=='P'"}],"mark":{"type":"text","align":"right","baseline":"middle","fontSize":22,"dx":-3},"encoding":{"text":{"field":"t","type":"nominal"}}}
        ]}
      ]},
     {"bounds":"flush","spacing":43,"resolve":{"scale":{"x":"independent","y":"independent"}},
      "hconcat":[
       {"width":26,"height":231,"view":{"stroke":null},"data":{"values":[{"t":""}]},"mark":{"type":"text"},"encoding":{"text":{"field":"t","type":"nominal"}}},
       {"width":296,"height":231,
        "encoding":{"x":{"field":"x","type":"quantitative","scale":{"domain":[154.56,168.31],"reverse":true,"nice":false,"zero":false},"axis":{"title":"Binding Energy (eV)","format":"d","values":[168,167,166,165,164,163,162,161,160,159,158,157,156,155],"labelExpr":"datum.value % 2 === 0 ? datum.label : ''"}},
                    "y":{"field":"y","type":"quantitative","scale":{"domain":[0,100],"nice":false,"zero":false},"axis":{"title":"Intensity (a.u.)"}}},
        "layer":[
         {"data":{"name":"b"},"transform":[{"filter":"datum.s=='ag'"}],"mark":{"type":"area","interpolate":"monotone","color":{"gradient":"linear","x1":0,"y1":0,"x2":0,"y2":1,"stops":[{"offset":0,"color":"#00d63c"},{"offset":0.5,"color":"#70eaa6"},{"offset":1,"color":"#ffffff"}]}},"encoding":{"y2":{"field":"b"},"detail":{"field":"p","type":"nominal"}}},
         {"data":{"name":"b"},"transform":[{"filter":"datum.s=='bg'"}],"mark":{"type":"line","color":"#ff0000","strokeWidth":1.6,"interpolate":"monotone"}},
         {"data":{"name":"b"},"transform":[{"filter":"datum.s=='d'"}],"mark":{"type":"line","color":"#ff0000","strokeWidth":2.4,"interpolate":"monotone"}},
         {"data":{"name":"b"},"transform":[{"filter":"datum.s=='d'"}],"mark":{"type":"line","color":"black","strokeWidth":2.4,"strokeDash":[2,1.5],"interpolate":"monotone"}},
         {"data":{"name":"bl"},"transform":[{"filter":"datum.k=='m'"}],"mark":{"type":"text","align":"left","baseline":"middle","fontSize":16.5},"encoding":{"text":{"field":"t","type":"nominal"}}},
         {"data":{"name":"bl"},"transform":[{"filter":"datum.k=='s'"}],"mark":{"type":"text","align":"left","baseline":"middle","fontSize":11.5},"encoding":{"text":{"field":"t","type":"nominal"}}},
         {"data":{"name":"bl"},"transform":[{"filter":"datum.k=='P'"}],"mark":{"type":"text","align":"right","baseline":"middle","fontSize":22,"dx":-3},"encoding":{"text":{"field":"t","type":"nominal"}}}
        ]},
       {"width":295,"height":231,
        "encoding":{"x":{"field":"x","type":"quantitative","scale":{"domain":[523.14,540.17],"reverse":true,"nice":false,"zero":false},"axis":{"title":"Binding Energy (eV)","format":"d","values":[540,539,538,537,536,535,534,533,532,531,530,529,528,527,526,525,524],"labelExpr":"datum.value % 2 === 0 ? datum.label : ''"}},
                    "y":{"field":"y","type":"quantitative","scale":{"domain":[0,100],"nice":false,"zero":false},"axis":{"title":"Intensity (a.u.)"}}},
        "layer":[
         {"data":{"name":"c"},"transform":[{"filter":"datum.s=='ac'"}],"mark":{"type":"area","interpolate":"monotone","color":{"gradient":"linear","x1":0,"y1":0,"x2":0,"y2":1,"stops":[{"offset":0,"color":"#00dcf5"},{"offset":0.5,"color":"#85eefa"},{"offset":1,"color":"#ffffff"}]}},"encoding":{"y2":{"field":"b"},"detail":{"field":"p","type":"nominal"}}},
         {"data":{"name":"c"},"transform":[{"filter":"datum.s=='ag'"}],"mark":{"type":"area","interpolate":"monotone","color":{"gradient":"linear","x1":0,"y1":0,"x2":0,"y2":1,"stops":[{"offset":0,"color":"#00d63c"},{"offset":0.5,"color":"#70eaa6"},{"offset":1,"color":"#ffffff"}]}},"encoding":{"y2":{"field":"b"},"detail":{"field":"p","type":"nominal"}}},
         {"data":{"name":"c"},"transform":[{"filter":"datum.s=='ac'"}],"mark":{"type":"line","color":"#00e5ff","strokeWidth":1.5,"interpolate":"monotone"}},
         {"data":{"name":"c"},"transform":[{"filter":"datum.s=='ag'"}],"mark":{"type":"line","color":"#00dd00","strokeWidth":1.8,"interpolate":"monotone"}},
         {"data":{"name":"c"},"transform":[{"filter":"datum.s=='bg'"}],"mark":{"type":"line","color":"#ff0000","strokeWidth":1.6}},
         {"data":{"name":"c"},"transform":[{"filter":"datum.s=='f'"}],"mark":{"type":"line","color":"#ff0000","strokeWidth":2,"interpolate":"monotone"}},
         {"data":{"name":"c"},"transform":[{"filter":"datum.s=='d'"}],"mark":{"type":"point","shape":"square","filled":true,"color":"black","size":6,"opacity":1}},
         {"data":{"name":"cl"},"transform":[{"filter":"datum.k=='m'"}],"mark":{"type":"text","align":"left","baseline":"middle","fontSize":16.5},"encoding":{"text":{"field":"t","type":"nominal"}}},
         {"data":{"name":"cl"},"transform":[{"filter":"datum.k=='P'"}],"mark":{"type":"text","align":"right","baseline":"middle","fontSize":22,"dx":-3},"encoding":{"text":{"field":"t","type":"nominal"}}}
        ]},
       {"width":293,"height":231,
        "encoding":{"x":{"field":"x","type":"quantitative","scale":{"domain":[-9.6,1200],"reverse":true,"nice":false,"zero":false},"axis":{"title":"Binding Energy (eV)","format":"d","values":[1200,1100,1000,900,800,700,600,500,400,300,200,100,0],"labelExpr":"datum.value % 200 === 0 ? datum.label : ''"}},
                    "y":{"field":"y","type":"quantitative","scale":{"domain":[0,100],"nice":false,"zero":false},"axis":{"title":"Intensity (a.u.)"}}},
        "layer":[
         {"data":{"name":"d"},"mark":{"type":"line","color":"black","strokeWidth":1.5}},
         {"data":{"name":"da"},"mark":{"type":"rule","color":"black","strokeWidth":1.3},"encoding":{"x2":{"field":"x2"},"y2":{"field":"y2"}}},
         {"data":{"name":"da"},"mark":{"type":"point","shape":"triangle-up","filled":true,"color":"black","size":28,"opacity":1},"encoding":{"x":{"field":"x2","type":"quantitative"},"y":{"field":"y2","type":"quantitative"},"angle":{"field":"a","type":"quantitative","scale":null}}},
         {"data":{"name":"dl"},"transform":[{"filter":"datum.k=='m'"}],"mark":{"type":"text","align":"left","baseline":"middle","fontSize":16.5},"encoding":{"text":{"field":"t","type":"nominal"}}},
         {"data":{"name":"dl"},"transform":[{"filter":"datum.k=='P'"}],"mark":{"type":"text","align":"right","baseline":"middle","fontSize":22,"dx":-3},"encoding":{"text":{"field":"t","type":"nominal"}}}
        ]}
      ]},
     {"bounds":"flush","spacing":46,"resolve":{"scale":{"x":"independent","y":"independent"}},
      "hconcat":[
       {"width":23,"height":231,"view":{"stroke":null},"data":{"values":[{"t":""}]},"mark":{"type":"text"},"encoding":{"text":{"field":"t","type":"nominal"}}},
       {"width":292,"height":231,
        "encoding":{"x":{"field":"x","type":"quantitative","scale":{"domain":[1107.9,1152.4],"reverse":true,"nice":false,"zero":false},"axis":{"title":"Binding Energy (eV)","format":"d","values":[1150,1145,1140,1135,1130,1125,1120,1115,1110],"labelExpr":"datum.value % 10 === 0 ? datum.label : ''"}},
                    "y":{"field":"y","type":"quantitative","scale":{"domain":[0,100],"nice":false,"zero":false},"axis":{"title":"Intensity (a.u.)"}}},
        "layer":[
         {"data":{"name":"e"},"mark":{"type":"line","color":"black","strokeWidth":1.6,"interpolate":"monotone"}},
         {"data":{"name":"el"},"transform":[{"filter":"datum.k=='m'"}],"mark":{"type":"text","align":"left","baseline":"middle","fontSize":16.5},"encoding":{"text":{"field":"t","type":"nominal"}}},
         {"data":{"name":"el"},"transform":[{"filter":"datum.k=='s'"}],"mark":{"type":"text","align":"left","baseline":"middle","fontSize":11.5},"encoding":{"text":{"field":"t","type":"nominal"}}},
         {"data":{"name":"el"},"transform":[{"filter":"datum.k=='P'"}],"mark":{"type":"text","align":"right","baseline":"middle","fontSize":22,"dx":-2},"encoding":{"text":{"field":"t","type":"nominal"}}}
        ]},
       {"width":295,"height":231,
        "encoding":{"x":{"field":"x","type":"quantitative","scale":{"domain":[13.14,29.16],"reverse":true,"nice":false,"zero":false},"axis":{"title":"Binding Energy (eV)","format":"d","values":[29,28,27,26,25,24,23,22,21,20,19,18,17,16,15,14],"labelExpr":"datum.value % 2 === 0 ? datum.label : ''"}},
                    "y":{"field":"y","type":"quantitative","scale":{"domain":[0,100],"nice":false,"zero":false},"axis":{"title":"Intensity (a.u.)"}}},
        "layer":[
         {"data":{"name":"f"},"transform":[{"filter":"datum.s=='ac'"}],"mark":{"type":"area","interpolate":"monotone","color":{"gradient":"linear","x1":0,"y1":0,"x2":0,"y2":1,"stops":[{"offset":0,"color":"#00dcf5"},{"offset":0.5,"color":"#85eefa"},{"offset":1,"color":"#ffffff"}]}},"encoding":{"y2":{"field":"b"},"detail":{"field":"p","type":"nominal"}}},
         {"data":{"name":"f"},"transform":[{"filter":"datum.s=='ag'"}],"mark":{"type":"area","interpolate":"monotone","color":{"gradient":"linear","x1":0,"y1":0,"x2":0,"y2":1,"stops":[{"offset":0,"color":"#00d63c"},{"offset":0.5,"color":"#70eaa6"},{"offset":1,"color":"#ffffff"}]}},"encoding":{"y2":{"field":"b"},"detail":{"field":"p","type":"nominal"}}},
         {"data":{"name":"f"},"transform":[{"filter":"datum.s=='am'"}],"mark":{"type":"area","interpolate":"monotone","color":{"gradient":"linear","x1":0,"y1":0,"x2":0,"y2":1,"stops":[{"offset":0,"color":"#ff10e0"},{"offset":0.5,"color":"#ff95ef"},{"offset":1,"color":"#ffffff"}]}},"encoding":{"y2":{"field":"b"},"detail":{"field":"p","type":"nominal"}}},
         {"data":{"name":"f"},"transform":[{"filter":"datum.s=='ac'"}],"mark":{"type":"line","color":"#00e5ff","strokeWidth":1.5,"interpolate":"monotone"}},
         {"data":{"name":"f"},"transform":[{"filter":"datum.s=='ag'"}],"mark":{"type":"line","color":"#00dd00","strokeWidth":1.6,"interpolate":"monotone"}},
         {"data":{"name":"f"},"transform":[{"filter":"datum.s=='am'"}],"mark":{"type":"line","color":"#ff00ff","strokeWidth":1.6,"interpolate":"monotone"}},
         {"data":{"name":"f"},"transform":[{"filter":"datum.s=='bg'"}],"mark":{"type":"line","color":"#ff0000","strokeWidth":1.6,"interpolate":"monotone"}},
         {"data":{"name":"f"},"transform":[{"filter":"datum.s=='d'"}],"mark":{"type":"line","color":"#ff0000","strokeWidth":2.4,"interpolate":"monotone"}},
         {"data":{"name":"f"},"transform":[{"filter":"datum.s=='d'"}],"mark":{"type":"line","color":"black","strokeWidth":2.4,"strokeDash":[2,1.5],"interpolate":"monotone"}},
         {"data":{"name":"fl"},"transform":[{"filter":"datum.k=='m'"}],"mark":{"type":"text","align":"left","baseline":"middle","fontSize":16.5},"encoding":{"text":{"field":"t","type":"nominal"}}},
         {"data":{"name":"fl"},"transform":[{"filter":"datum.k=='s'"}],"mark":{"type":"text","align":"left","baseline":"middle","fontSize":11.5},"encoding":{"text":{"field":"t","type":"nominal"}}},
         {"data":{"name":"fl"},"transform":[{"filter":"datum.k=='P'"}],"mark":{"type":"text","align":"right","baseline":"middle","fontSize":22,"dx":-2},"encoding":{"text":{"field":"t","type":"nominal"}}}
        ]},
       {"width":293,"height":231,
        "encoding":{"x":{"field":"x","type":"quantitative","scale":{"domain":[523.35,540.17],"reverse":true,"nice":false,"zero":false},"axis":{"title":"Binding Energy (eV)","format":"d","values":[540,539,538,537,536,535,534,533,532,531,530,529,528,527,526,525,524],"labelExpr":"datum.value % 2 === 0 ? datum.label : ''"}},
                    "y":{"field":"y","type":"quantitative","scale":{"domain":[0,100],"nice":false,"zero":false},"axis":{"title":"Intensity (a.u.)"}}},
        "layer":[
         {"data":{"name":"g"},"transform":[{"filter":"datum.s=='ac'"}],"mark":{"type":"area","interpolate":"monotone","color":{"gradient":"linear","x1":0,"y1":0,"x2":0,"y2":1,"stops":[{"offset":0,"color":"#00dcf5"},{"offset":0.5,"color":"#85eefa"},{"offset":1,"color":"#ffffff"}]}},"encoding":{"y2":{"field":"b"},"detail":{"field":"p","type":"nominal"}}},
         {"data":{"name":"g"},"transform":[{"filter":"datum.s=='am'"}],"mark":{"type":"area","interpolate":"monotone","opacity":0.9,"color":{"gradient":"linear","x1":0,"y1":0,"x2":0,"y2":1,"stops":[{"offset":0,"color":"#ff10e0"},{"offset":0.5,"color":"#ff95ef"},{"offset":1,"color":"#ffffff"}]}},"encoding":{"y2":{"field":"b"},"detail":{"field":"p","type":"nominal"}}},
         {"data":{"name":"g"},"transform":[{"filter":"datum.s=='ac'"}],"mark":{"type":"line","color":"#00e5ff","strokeWidth":1.6,"interpolate":"monotone"}},
         {"data":{"name":"g"},"transform":[{"filter":"datum.s=='am'"}],"mark":{"type":"line","color":"#ff00ff","strokeWidth":1.8,"interpolate":"monotone"}},
         {"data":{"name":"g"},"transform":[{"filter":"datum.s=='bg'"}],"mark":{"type":"line","color":"black","strokeWidth":1.5,"interpolate":"monotone"}},
         {"data":{"name":"g"},"transform":[{"filter":"datum.s=='f'"}],"mark":{"type":"line","color":"#ff0000","strokeWidth":2.2,"interpolate":"monotone"}},
         {"data":{"name":"g"},"transform":[{"filter":"datum.s=='d'"}],"mark":{"type":"point","shape":"square","filled":true,"color":"black","size":6,"opacity":1}},
         {"data":{"name":"gl"},"transform":[{"filter":"datum.k=='m'"}],"mark":{"type":"text","align":"left","baseline":"middle","fontSize":16.5},"encoding":{"text":{"field":"t","type":"nominal"}}},
         {"data":{"name":"gl"},"transform":[{"filter":"datum.k=='s'"}],"mark":{"type":"text","align":"left","baseline":"middle","fontSize":11.5},"encoding":{"text":{"field":"t","type":"nominal"}}},
         {"data":{"name":"gl"},"transform":[{"filter":"datum.k=='P'"}],"mark":{"type":"text","align":"right","baseline":"middle","fontSize":22,"dx":-2},"encoding":{"text":{"field":"t","type":"nominal"}}}
        ]}
      ]},
   {"bounds":"flush","spacing":43,"resolve":{"scale":{"x":"independent","y":"independent"}},
    "hconcat":[
     {"width":230,"height":10,"view":{"stroke":null},"data":{"values":[{"t":""}]},"mark":{"type":"text"},"encoding":{"text":{"field":"t","type":"nominal"}}},
     {"bounds":"flush","spacing":21,"resolve":{"scale":{"x":"independent","y":"independent"}},
      "vconcat":[
       {"width":819,"height":54,"view":{"stroke":null},"data":{"name":"cap"},
        "encoding":{"x":{"field":"x","type":"quantitative","scale":{"domain":[0,819],"nice":false,"zero":false},"axis":null},"y":{"field":"ln","type":"ordinal","scale":{"type":"point","padding":0.5},"axis":null},"text":{"field":"t","type":"nominal"}},
        "layer":[
         {"transform":[{"filter":"datum.k=='b'"}],"mark":{"type":"text","align":"left","baseline":"middle","fontSize":20,"fontWeight":"bold"}},
         {"transform":[{"filter":"datum.k=='n'"}],"mark":{"type":"text","align":"left","baseline":"middle","fontSize":20}}
        ]},
       {"width":819,"height":349,"view":{"stroke":null},"data":{"name":"body"},
        "encoding":{"x":{"field":"x","type":"quantitative","scale":{"domain":[0,819],"nice":false,"zero":false},"axis":null},"y":{"field":"ln","type":"ordinal","scale":{"type":"point","padding":0.5},"axis":null},"text":{"field":"t","type":"nominal"}},
        "layer":[
         {"transform":[{"filter":"datum.k=='n'"}],"mark":{"type":"text","align":"left","baseline":"middle","fontSize":22.2}},
         {"transform":[{"filter":"datum.k=='l'"}],"mark":{"type":"text","align":"left","baseline":"middle","fontSize":22.2,"color":"#3a75c4"}}
        ]}
      ]}
    ]}
  ]}
]
}
